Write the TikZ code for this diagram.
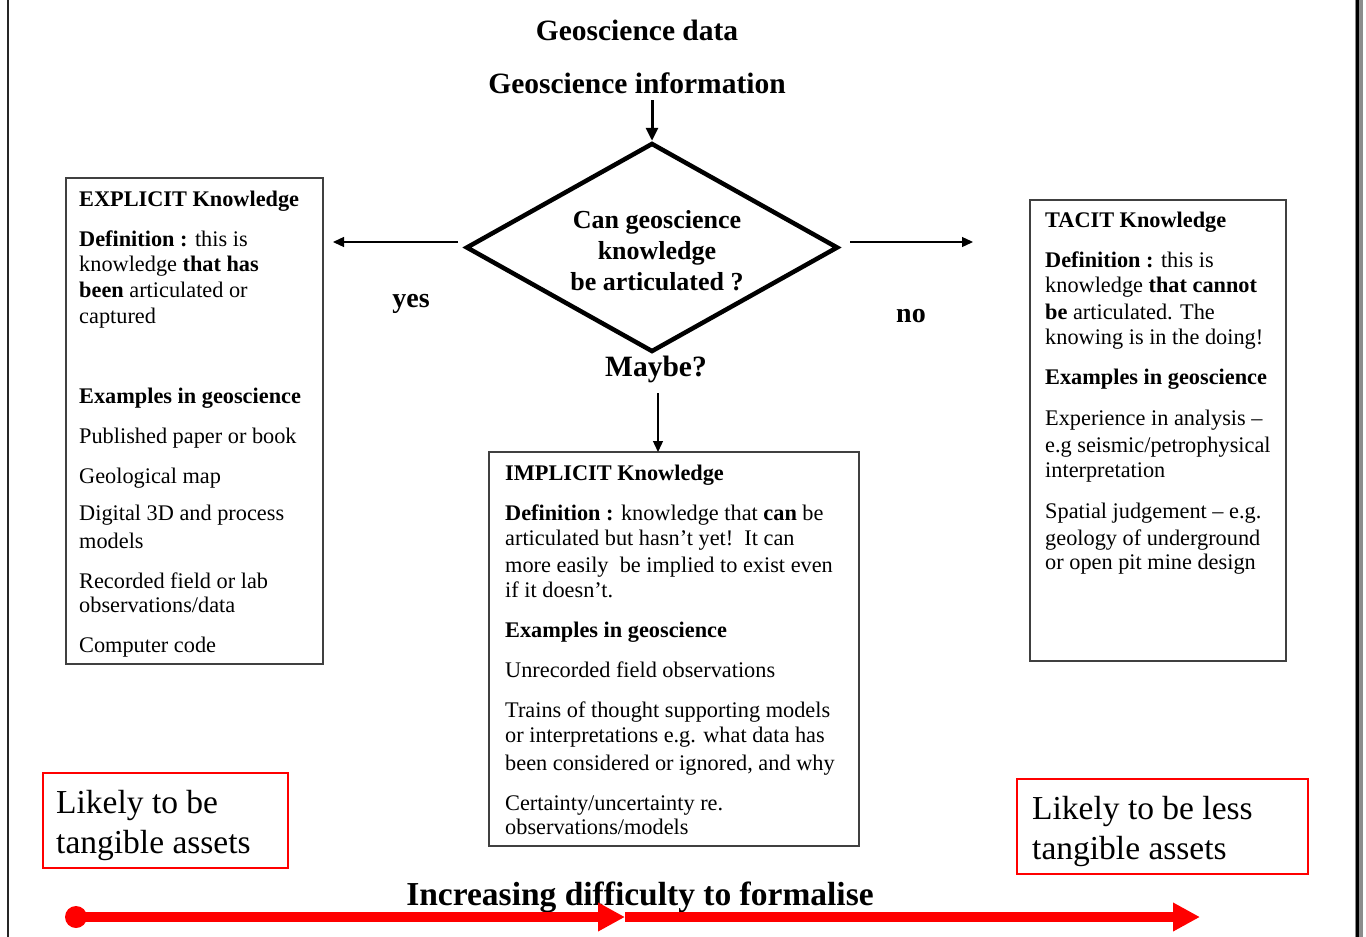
\documentclass[tikz,border=0pt]{standalone}
\usepackage{fontspec}
\setmainfont{Liberation Serif}
\usetikzlibrary{arrows.meta,shapes.geometric}
\newcounter{lnc}
\newcommand{\tline}[3]{\stepcounter{lnc}\node[tl] (t\thelnc) at (#1,#2) {#3};}
\begin{document}
\begin{tikzpicture}[x=1pt,y=-1pt,
  tl/.style={anchor=base west,inner sep=0pt,font=\fontsize{22.3}{25}\selectfont},
  kbox/.style={draw=black!75,line width=1.3pt},
  rbox/.style={draw=red,line width=1.3pt},
  title/.style={anchor=base,inner sep=0pt,font=\bfseries\fontsize{29.5}{32}\selectfont},
  lab/.style={anchor=base,inner sep=0pt,font=\bfseries\fontsize{28}{32}\selectfont},
  thin arrow/.style={line width=1.3pt,-{Triangle[length=11pt,width=10pt]}},
  red arrow/.style={draw=red,line width=9.5pt,-{Triangle[length=27pt,width=27pt]}},
  big/.style={anchor=base west,inner sep=0pt,font=\fontsize{33.5}{40}\selectfont}
]
\useasboundingbox (0,0) rectangle (1366,937);
% frame
\draw[line width=1.5pt,black!85] (8,0) -- (8,937);
\fill[black!45] (1355,0) rectangle (1363,937);
\draw[line width=2.6pt,black] (1357.5,0) -- (1357.5,937);

% titles
\node[title] (data) at (637,40) {Geoscience data};
\node[title] (info) at (637,93) {Geoscience information};

% decision diamond
\node[draw,diamond,aspect=1.78,minimum width=372pt,minimum height=209pt,inner sep=0pt,
  line width=4.5pt] (dia) at (652,247.5) {};
\node[align=center,inner sep=0pt,font=\bfseries\fontsize{26}{31}\selectfont]
  (q) at (657,251) {Can geoscience\\knowledge\\be articulated ?};

\coordinate (a0) at (652,100);
\draw[line width=3pt,-{Triangle[length=13pt,width=12pt]}] (a0) -- (dia.north);

\coordinate (yl0) at (458,242);
\coordinate (yl1) at (333,242);
\draw[thin arrow] (yl0) -- (yl1);
\coordinate (nr0) at (850,242);
\coordinate (nr1) at (973,242);
\draw[thin arrow] (nr0) -- (nr1);

\node[lab] (yes) at (411,307) {yes};
\node[lab] (no) at (911,322) {no};
\node[lab,font=\bfseries\fontsize{29.5}{32}\selectfont] (maybe) at (656,376) {Maybe?};

% boxes
\node[kbox,minimum width=257pt,minimum height=486pt,inner sep=0pt] (exp) at (194.5,421) {};
\node[kbox,minimum width=256pt,minimum height=461pt,inner sep=0pt] (tac) at (1158,430.5) {};
\node[kbox,minimum width=370pt,minimum height=394pt,inner sep=0pt] (imp) at (674,649) {};

\coordinate (m0) at (658,393);
\coordinate (m1) at (658,452);
\draw[thin arrow] (m0) -- (m1);

% EXPLICIT text
\tline{79}{206}{\textbf{EXPLICIT Knowledge}}
\tline{79}{246}{\textbf{Definition :} this is}
\tline{79}{271}{knowledge \textbf{that has}}
\tline{79}{297}{\textbf{been} articulated or}
\tline{79}{323}{captured}
\tline{79}{403}{\textbf{Examples in geoscience}}
\tline{79}{443}{Published paper or book}
\tline{79}{483}{Geological map}
\tline{79}{520}{Digital 3D and process}
\tline{79}{548}{models}
\tline{79}{588}{Recorded field or lab}
\tline{79}{612}{observations/data}
\tline{79}{652}{Computer code}

% TACIT text
\tline{1045}{227}{\textbf{TACIT Knowledge}}
\tline{1045}{267}{\textbf{Definition :} this is}
\tline{1045}{292}{knowledge \textbf{that cannot}}
\tline{1045}{319}{\textbf{be} articulated. The}
\tline{1045}{344}{knowing is in the doing!}
\tline{1045}{384}{\textbf{Examples in geoscience}}
\tline{1045}{425}{Experience in analysis –}
\tline{1045}{452}{e.g seismic/petrophysical}
\tline{1045}{477}{interpretation}
\tline{1045}{518}{Spatial judgement – e.g.}
\tline{1045}{545}{geology of underground}
\tline{1045}{569}{or open pit mine design}

% IMPLICIT text
\tline{505}{480}{\textbf{IMPLICIT Knowledge}}
\tline{505}{520}{\textbf{Definition :} knowledge that \textbf{can} be}
\tline{505}{545}{articulated but hasn’t yet!\ \ It can}
\tline{505}{572}{more easily\ \ be implied to exist even}
\tline{505}{597}{if it doesn’t.}
\tline{505}{637}{\textbf{Examples in geoscience}}
\tline{505}{677}{Unrecorded field observations}
\tline{505}{717}{Trains of thought supporting models}
\tline{505}{742}{or interpretations e.g. what data has}
\tline{505}{770}{been considered or ignored, and why}
\tline{505}{810}{Certainty/uncertainty re.}
\tline{505}{834}{observations/models}

% red boxes
\node[rbox,minimum width=245pt,minimum height=95pt,inner sep=0pt] (tang) at (165.5,820.5) {};
\node[big] (tang1) at (56,813) {Likely to be};
\node[big] (tang2) at (56,853) {tangible assets};
\node[rbox,minimum width=291pt,minimum height=95pt,inner sep=0pt] (less) at (1162.5,826.5) {};
\node[big] (less1) at (1032,819) {Likely to be less};
\node[big] (less2) at (1032,859) {tangible assets};

% bottom scale
\node[anchor=base,inner sep=0pt,font=\bfseries\fontsize{33.5}{40}\selectfont] (diff) at (640,905) {Increasing difficulty to formalise};
\node[circle,fill=red,minimum size=22pt,inner sep=0pt] (r0) at (76,917) {};
\coordinate (r1) at (625,917);
\coordinate (r2) at (1200,917);
\draw[red arrow] (r0.center) -- (r1);
\draw[red arrow] (r1) -- (r2);
\end{tikzpicture}
\end{document}
